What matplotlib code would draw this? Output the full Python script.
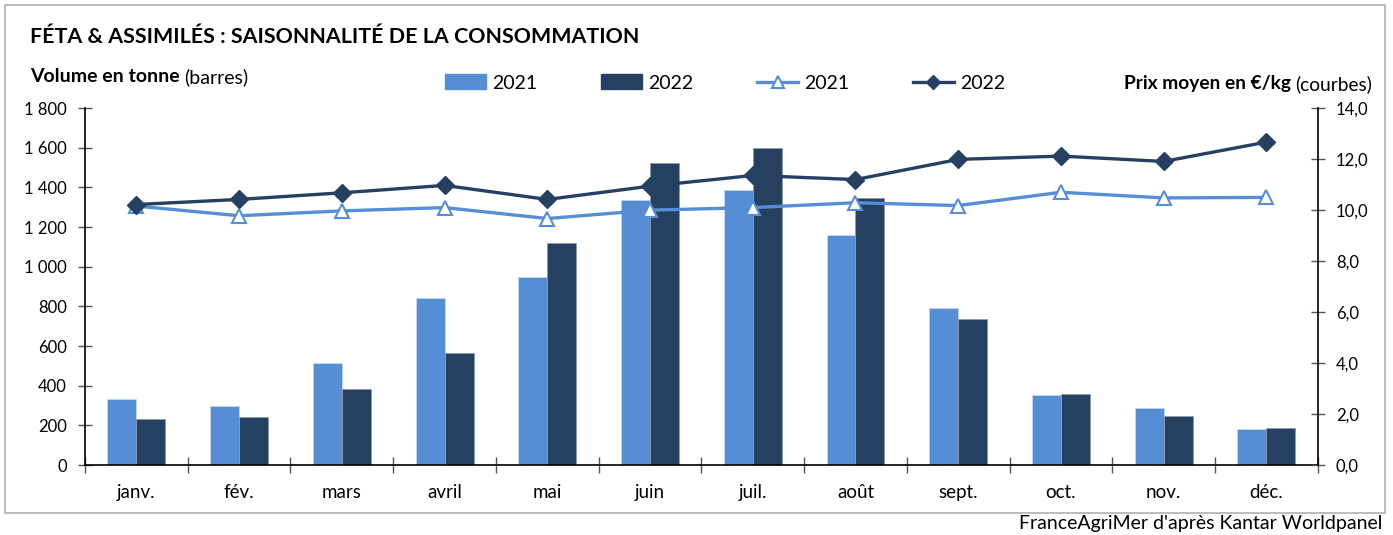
import numpy as np
import matplotlib.pyplot as plt
from matplotlib.patches import Rectangle, Patch
from matplotlib.lines import Line2D
from matplotlib.ticker import FuncFormatter

plt.rcParams['font.family'] = ['Lato', 'DejaVu Sans']

mois = ['janv.', 'fév.', 'mars', 'avril', 'mai', 'juin', 'juil.', 'août',
        'sept.', 'oct.', 'nov.', 'déc.']

# volumes (tonnes)
vol_2021 = [332, 297, 515, 843, 947, 1335, 1389, 1162, 791, 351, 287, 181]
vol_2022 = [230, 240, 383, 564, 1122, 1523, 1597, 1349, 735, 358, 247, 186]

# prix moyen (€/kg)
prix_2021 = [10.16, 9.78, 9.97, 10.10, 9.67, 10.00, 10.10, 10.29, 10.18, 10.70, 10.48, 10.50]
prix_2022 = [10.22, 10.42, 10.68, 10.97, 10.42, 10.94, 11.36, 11.20, 11.99, 12.12, 11.91, 12.67]

bleu = '#558ED5'
marine = '#264061'

fig = plt.figure(figsize=(13.93, 5.35), dpi=100)
ax = fig.add_axes([0.061, 0.1308, 0.885, 0.667])

x = np.arange(len(mois))
w = 0.282
ax.bar(x - w / 2, vol_2021, w, color=bleu, edgecolor='#c5d6ee', linewidth=0.6, zorder=2)
ax.bar(x + w / 2, vol_2022, w, color=marine, edgecolor='#8a9ab0', linewidth=0.6, zorder=2)

ax.set_xlim(-0.5, 11.5)
ax.set_ylim(0, 1800)
ax.set_yticks(np.arange(0, 1801, 200))
ax.yaxis.set_major_formatter(FuncFormatter(lambda v, p: f'{int(v):,}'.replace(',', ' ')))
ax.set_xticks(x)
ax.set_xticklabels(mois)
ax.set_xticks(np.arange(-0.5, 12, 1), minor=True)
ax.tick_params(axis='x', which='major', length=0, pad=14, labelsize=13.5)
ax.tick_params(axis='x', which='minor', direction='inout', length=12, width=1, color='#555555')
ax.tick_params(axis='y', direction='inout', length=10, width=1, color='#555555',
               labelsize=12, pad=8)
for s in ['top', 'right']:
    ax.spines[s].set_visible(False)
for s in ['left', 'bottom']:
    ax.spines[s].set_linewidth(1.2)

ax2 = ax.twinx()
ax2.plot(x, prix_2021, color=bleu, lw=2.4, marker='^', ms=10,
         markerfacecolor='white', markeredgecolor=bleu, markeredgewidth=1.5, zorder=3)
ax2.plot(x, prix_2022, color=marine, lw=2.4, marker='D', ms=9,
         markerfacecolor=marine, markeredgecolor=marine, zorder=4)
ax2.set_ylim(0, 14)
ax2.set_yticks(np.arange(0, 14.1, 2))
ax2.yaxis.set_major_formatter(FuncFormatter(lambda v, p: f'{v:.1f}'.replace('.', ',')))
ax2.tick_params(axis='y', direction='inout', length=10, width=1, color='#555555',
                labelsize=12, pad=8)
for s in ['top', 'left', 'bottom']:
    ax2.spines[s].set_visible(False)
ax2.spines['right'].set_linewidth(1.2)

# cadre
fig.patches.append(Rectangle((5 / 1393, 1 - 513 / 535), 1380 / 1393, 508 / 535,
                             transform=fig.transFigure, fill=False,
                             edgecolor='#b0b0b0', linewidth=1.2))

fig.text(30 / 1393, 1 - 37 / 535, 'FÉTA & ASSIMILÉS : SAISONNALITÉ DE LA CONSOMMATION',
         fontsize=15.4, fontweight='bold', va='center', ha='left')

t = fig.text(30 / 1393, 1 - 77 / 535, 'Volume en tonne', fontsize=14,
             fontweight='bold', va='center', ha='left')
fig.canvas.draw()
bb = t.get_window_extent()
fig.text(bb.x1 / fig.bbox.width + 0.003, 1 - 77 / 535, '(barres)', fontsize=14,
         va='center', ha='left')

t2 = fig.text(1372 / 1393, 1 - 84 / 535, '(courbes)', fontsize=13.8,
              va='center', ha='right')
fig.canvas.draw()
bb2 = t2.get_window_extent()
fig.text(bb2.x0 / fig.bbox.width - 0.003, 1 - 84 / 535, 'Prix moyen en €/kg',
         fontsize=13.8, fontweight='bold', va='center', ha='right')

handles = [
    Patch(facecolor=bleu, edgecolor=bleu),
    Patch(facecolor=marine, edgecolor=marine),
    Line2D([], [], color=bleu, lw=2.4, marker='^', ms=8, markerfacecolor='white',
           markeredgecolor=bleu, markeredgewidth=1.5),
    Line2D([], [], color=marine, lw=2.4, marker='D', ms=7, markerfacecolor=marine),
]
fig.legend(handles, ['2021', '2022', '2021', '2022'], ncol=4, frameon=False,
           loc='center', bbox_to_anchor=(725 / 1393, 1 - 83 / 535),
           fontsize=14, handlelength=2.1, handleheight=0.8,
           handletextpad=0.3, columnspacing=3.3)

fig.text(1382 / 1393, 1 - 524 / 535, "FranceAgriMer d'après Kantar Worldpanel",
         fontsize=14, ha='right', va='center')

fig.savefig('out.png', dpi=100)
